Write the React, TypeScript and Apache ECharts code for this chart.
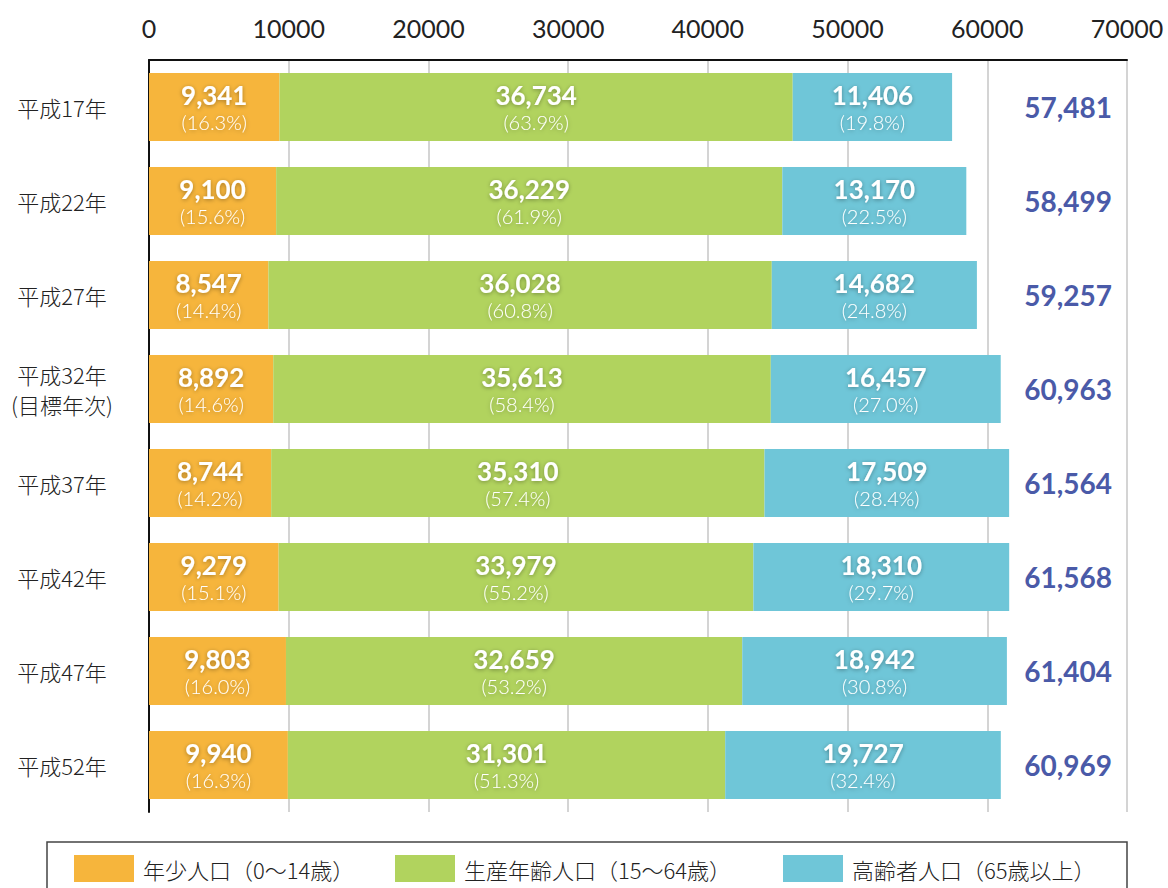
import React, { useEffect, useRef } from "react";
import * as echarts from "echarts";

const categories = ["平成17年", "平成22年", "平成27年", "平成32年\n(目標年次)", "平成37年", "平成42年", "平成47年", "平成52年"];
const youth = [9341, 9100, 8547, 8892, 8744, 9279, 9803, 9940];
const working = [36734, 36229, 36028, 35613, 35310, 33979, 32659, 31301];
const elderly = [11406, 13170, 14682, 16457, 17509, 18310, 18942, 19727];
const youthPct = ["16.3%", "15.6%", "14.4%", "14.6%", "14.2%", "15.1%", "16.0%", "16.3%"];
const workingPct = ["63.9%", "61.9%", "60.8%", "58.4%", "57.4%", "55.2%", "53.2%", "51.3%"];
const elderlyPct = ["19.8%", "22.5%", "24.8%", "27.0%", "28.4%", "29.7%", "30.8%", "32.4%"];
const totals = ["57,481", "58,499", "59,257", "60,963", "61,564", "61,568", "61,404", "60,969"];
const seriesNames = ["年少人口（0〜14歳）", "生産年齢人口（15〜64歳）", "高齢者人口（65歳以上）"];
const colors = ["#f6b53c", "#b1d35e", "#6fc6d8"];

const FONT = "'Noto Sans CJK JP', 'Noto Sans', sans-serif";
const NUM = "'Lato', 'Noto Sans', sans-serif";
const legendLefts = [74, 395, 783];

function makeLabel(pcts: string[]) {
  return {
    show: true,
    position: "inside",
    formatter: (p: any) => `{v|${Number(p.value).toLocaleString("en-US")}}\n{p|(${pcts[p.dataIndex]})}`,
    rich: {
      v: { fontSize: 26, fontWeight: "bold", color: "#fff", fontFamily: NUM, lineHeight: 29,
        textShadowColor: "rgba(0,0,0,0.35)", textShadowBlur: 4, textShadowOffsetY: 1 },
      p: { fontSize: 20, fontWeight: 300, color: "#fff", fontFamily: NUM, lineHeight: 24,
        textShadowColor: "rgba(0,0,0,0.3)", textShadowBlur: 4, textShadowOffsetY: 1 },
    },
  };
}

export default function App() {
  const ref = useRef<HTMLDivElement>(null);
  useEffect(() => {
    const chart = echarts.init(ref.current!, undefined, { renderer: "svg" });
    const datasets = [youth, working, elderly];
    const pcts = [youthPct, workingPct, elderlyPct];
    chart.setOption({
      animation: false,
      textStyle: { fontFamily: FONT },
      grid: { left: 149, right: 41, top: 60, bottom: 76, containLabel: false, outerBoundsMode: "none" },
      xAxis: {
        type: "value",
        position: "top",
        min: 0,
        max: 70000,
        interval: 10000,
        axisLine: { show: true, lineStyle: { color: "#111", width: 2 } },
        axisTick: { show: false },
        axisLabel: { fontSize: 25, color: "#222", margin: 20, fontFamily: NUM, formatter: (v: number) => String(v) },
        splitLine: { show: true, lineStyle: { color: "#d4d4d4", width: 2 } },
      },
      yAxis: [
        {
          type: "category",
          data: categories,
          inverse: true,
          position: "left",
          axisLine: { show: true, lineStyle: { color: "#111", width: 2 } },
          axisTick: { show: false },
          axisLabel: { fontSize: 22, fontWeight: 300, color: "#222", align: "center", margin: 87, lineHeight: 30, fontFamily: FONT },
        },
        {
          type: "category",
          data: totals,
          inverse: true,
          position: "right",
          axisLine: { show: false },
          axisTick: { show: false },
          splitLine: { show: false },
          axisLabel: { inside: true, margin: 15, fontSize: 28, fontWeight: "bold", color: "#4a5aa8", fontFamily: NUM },
        },
      ],
      legend: seriesNames.map((n, i) => ({
        left: legendLefts[i],
        top: 855,
        padding: 0,
        itemWidth: 60,
        itemHeight: 27,
        icon: "rect",
        data: [n],
        textStyle: { fontSize: 22, fontWeight: 300, color: "#222", fontFamily: FONT, padding: [0, 0, 0, 4] },
      })),
      graphic: [
        {
          type: "rect",
          shape: { x: 47, y: 842, width: 1080, height: 60 },
          style: { fill: "none", stroke: "#444", lineWidth: 1.5 },
          silent: true,
        },
      ],
      series: datasets.map((d, i) => ({
        name: seriesNames[i],
        type: "bar",
        stack: "total",
        barWidth: 68,
        data: d,
        itemStyle: { color: colors[i] },
        label: makeLabel(pcts[i]),
      })),
    });
    return () => chart.dispose();
  }, []);
  return <div ref={ref} style={{ width: 1168, height: 888, position: "absolute", left: 0, top: 0 }} />;
}
